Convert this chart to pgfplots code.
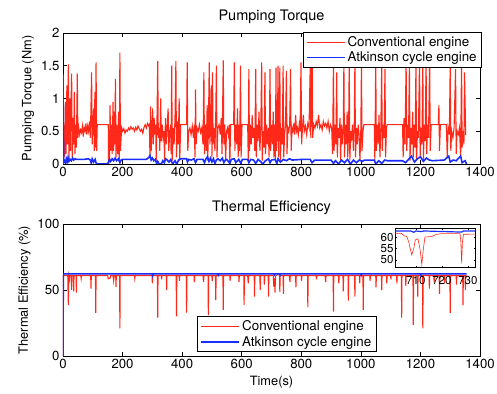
\documentclass[border=0pt]{standalone}
\usepackage{pgfplots}
\pgfplotsset{compat=1.18}
\usepackage{pgfplotstable}
\usepackage{fontspec}
\setmainfont{TeX Gyre Heros}
\definecolor{cred}{RGB}{255,40,25}
\definecolor{cblue}{RGB}{25,45,255}

\pgfplotstableread{
t v
0 0.60
3 0.58
5 0.10
8 0.95
10 0.15
13 1.20
15 0.30
18 1.52
20 0.08
23 1.00
25 0.20
27 0.90
29 1.38
31 0.10
34 0.70
36 0.30
38 1.10
40 0.15
43 0.60
45 0.25
48 1.38
50 0.40
53 0.55
56 0.45
59 0.52
62 0.48
65 0.58
68 0.42
71 0.55
74 0.50
77 0.62
80 0.45
83 0.58
86 0.50
89 0.65
92 0.40
94 0.90
96 1.40
98 0.30
100 0.60
103 0.85
105 0.20
107 1.10
109 0.25
111 1.55
113 0.20
115 0.60
152 0.60
153 0.00
156 0.05
158 0.90
160 0.20
163 0.60
165 0.15
168 0.95
170 0.20
172 0.80
174 0.30
176 1.30
178 0.10
181 0.60
184 0.15
187 0.80
189 0.05
191 1.70
193 0.20
195 0.40
197 0.55
200 0.50
204 0.54
208 0.47
212 0.52
216 0.50
220 0.55
224 0.52
228 0.57
232 0.53
236 0.55
240 0.50
244 0.56
248 0.52
252 0.58
256 0.54
260 0.50
264 0.53
268 0.47
272 0.56
276 0.60
280 0.55
284 0.62
288 0.58
290 0.60
292 0.10
294 0.88
296 0.20
299 0.55
301 0.85
303 0.30
306 0.70
308 0.45
311 0.60
313 0.05
316 0.80
318 1.57
320 0.40
323 0.55
325 0.20
328 1.00
330 0.35
333 0.60
336 0.40
339 0.50
341 0.05
344 0.70
347 0.30
350 0.60
353 0.85
355 0.20
358 0.45
361 0.60
363 0.15
365 1.50
367 0.05
370 0.55
373 0.30
376 0.70
379 1.57
381 0.10
384 0.65
387 0.30
390 1.00
392 0.05
395 0.60
415 0.60
417 1.55
419 0.20
422 0.50
426 0.55
430 0.45
434 0.58
438 0.40
441 0.60
443 0.10
445 1.14
447 0.30
450 0.55
454 0.50
458 0.60
462 0.48
466 0.55
470 0.30
473 1.40
475 0.15
478 0.60
481 0.20
484 0.90
486 0.05
488 0.50
491 1.55
493 0.30
496 0.60
498 1.20
500 0.10
502 1.40
504 0.30
507 0.55
510 0.20
513 0.80
515 1.50
517 0.10
520 0.55
524 0.60
528 0.45
531 0.70
534 0.15
538 1.58
540 0.30
543 0.60
546 0.05
549 0.50
552 0.55
555 0.45
558 0.60
560 0.00
563 0.60
573 0.60
575 1.55
577 0.20
580 0.60
583 0.30
586 0.85
588 0.10
591 0.60
593 0.20
596 1.50
598 0.10
601 0.60
620 0.60
622 0.05
624 1.45
626 0.20
629 0.60
632 0.30
635 0.75
638 0.40
641 0.55
644 0.20
647 1.45
649 0.10
652 0.60
655 0.35
658 0.80
661 0.20
664 0.55
667 1.55
669 0.05
672 0.50
675 0.25
678 1.40
680 0.15
683 0.60
686 0.30
689 0.55
692 0.10
695 1.45
697 0.20
700 0.60
703 0.30
706 0.80
708 0.10
711 0.60
713 0.05
715 1.47
717 0.20
720 0.55
722 1.50
724 0.10
726 0.60
728 1.47
730 0.05
733 0.55
736 0.30
739 1.50
741 0.10
744 0.45
747 0.60
750 1.42
752 0.15
755 0.55
758 0.50
761 0.60
764 1.45
766 0.20
769 0.55
772 0.50
775 0.62
778 0.45
781 0.75
784 0.50
787 0.55
790 0.45
793 0.60
796 0.50
799 1.55
801 0.30
804 0.55
807 0.75
810 0.50
814 0.58
818 0.45
822 0.62
826 0.55
830 1.50
832 0.40
836 2.00
838 0.40
842 0.60
846 0.55
850 0.65
854 0.58
858 0.75
862 0.55
866 0.60
870 0.52
874 0.65
878 0.58
882 0.62
886 0.55
890 0.65
894 0.50
898 0.60
902 0.55
905 0.15
908 1.57
910 0.20
913 0.60
916 0.30
919 1.40
921 0.10
924 0.55
927 0.40
930 0.70
932 0.05
935 0.60
938 0.30
941 0.55
943 1.55
945 0.10
948 0.60
951 0.30
954 0.80
956 0.10
959 0.55
961 1.60
963 0.05
966 0.50
969 0.40
972 0.60
975 0.20
978 0.65
980 1.57
982 0.10
985 0.55
988 0.30
991 0.60
994 0.45
997 0.05
1000 0.55
1002 1.55
1004 0.20
1007 0.50
1010 0.60
1045 0.60
1047 0.05
1050 1.60
1052 0.20
1055 0.60
1058 0.30
1061 0.75
1064 0.10
1067 0.55
1070 1.50
1072 0.20
1075 0.60
1078 0.40
1081 1.45
1083 0.10
1086 0.55
1088 0.60
1140 0.60
1142 0.10
1145 0.70
1148 0.30
1152 1.55
1154 0.20
1157 0.60
1160 0.40
1163 1.50
1165 0.05
1168 0.55
1171 0.30
1174 0.80
1176 0.10
1179 0.60
1182 0.25
1185 1.55
1187 0.05
1190 0.50
1193 0.40
1197 1.60
1199 0.10
1202 0.55
1205 0.30
1208 1.55
1210 0.05
1213 0.60
1216 0.35
1219 1.60
1221 0.15
1224 0.60
1227 0.40
1231 1.58
1233 0.20
1236 0.60
1260 0.60
1262 0.90
1264 0.20
1267 0.60
1287 0.60
1290 0.10
1293 0.55
1297 0.45
1300 1.50
1302 0.20
1305 0.50
1309 0.40
1313 0.55
1318 1.45
1320 0.15
1323 0.50
1327 0.45
1331 0.55
1335 0.10
1338 1.55
1340 0.25
1343 0.50
1346 0.30
1348 1.40
1352 0.44
}\torqueRed

\pgfplotstableread{
t v
0 1.37
2 0.02
5 0.05
8 0.02
11 0.08
14 0.03
17 0.10
20 0.04
24 0.07
28 0.05
32 0.09
36 0.06
40 0.08
45 0.07
55 0.07
70 0.07
85 0.08
92 0.06
95 0.01
98 0.08
103 0.03
108 0.07
112 0.00
148 0.00
152 0.02
156 0.07
160 0.04
165 0.08
170 0.05
175 0.09
180 0.05
186 0.08
191 0.02
195 0.06
200 0.07
250 0.07
280 0.07
288 0.10
292 0.13
296 0.06
300 0.09
305 0.05
310 0.07
314 0.01
318 0.04
322 0.00
330 0.00
335 0.05
340 0.02
345 0.08
350 0.06
356 0.03
362 0.07
368 0.00
376 0.05
382 0.00
388 0.06
395 0.08
415 0.08
418 0.03
422 0.07
430 0.06
440 0.08
445 0.02
450 0.07
470 0.07
475 0.02
480 0.08
485 0.11
490 0.04
495 0.09
500 0.03
505 0.08
510 0.01
515 0.06
520 0.08
528 0.05
535 0.09
540 0.02
545 0.06
550 0.07
560 0.01
565 0.07
575 0.08
580 0.02
590 0.07
597 0.01
602 0.07
620 0.07
624 0.02
630 0.07
640 0.06
647 0.01
655 0.07
665 0.03
670 0.00
680 0.05
690 0.08
695 0.02
700 0.06
712 0.07
718 0.01
722 0.08
730 0.03
740 0.07
750 0.05
760 0.08
770 0.06
800 0.07
830 0.07
836 0.02
845 0.06
900 0.06
908 0.01
915 0.05
925 0.00
935 0.06
945 0.02
955 0.07
965 0.00
975 0.06
985 0.02
995 0.06
1005 0.04
1012 0.06
1045 0.06
1050 0.00
1060 0.05
1070 0.01
1080 0.06
1090 0.05
1140 0.05
1150 0.02
1160 0.07
1170 0.12
1180 0.03
1190 0.08
1200 0.11
1210 0.04
1220 0.09
1230 0.06
1240 0.05
1280 0.06
1295 0.12
1300 0.03
1310 0.06
1320 0.05
1335 0.12
1340 0.02
1350 0.05
1355 0.00
}\torqueBlue

\pgfplotstableread{
t v
0 0
1 61
16 61
18 38.6
19 61
22 58
23 61
28 61
29 50
30 61
35 61
36 49
37 61
44 61
45 48
46 61
60 61
61 59
62 61
93 61
94 51
95 61
109 61
110 32.6
111 61
150 61
152 58.5
158 59
160 61
168 61
170 57
172 61
177 61
178 52.4
179 61
190 61
191 21
192 61
240 61
241 59
242 61
299 61
300 55
301 61
317 61
318 29
319 61
330 61
331 58
332 61
347 61
348 50
349 61
380 61
381 30
382 61
390 61
391 57
392 61
414 61
415 32.8
416 61
440 61
441 56
442 61
470 61
472 56
473 61
487 61
488 31
489 61
500 61
501 57
502 61
512 61
513 42.4
514 61
537 61
538 35
539 61
560 61
561 57
562 61
590 61
591 56
592 61
607 61
608 38.6
609 61
620 61
622 55
623 61
642 61
643 45
644 61
661 61
662 50
663 61
675 61
676 54
677 61
689 61
690 45
691 61
702 61
706 60.8
708 52.3
710 59
712 48
713 60.5
718 61.5
727 61.5
728 48.5
729 61
739 61
740 47
741 61
760 61
762 56
763 61
781 61
782 52
783 61
800 61
801 57
802 61
821 61
822 37
823 61
850 61
851 58
852 61
880 61
882 56
883 61
907 61
908 33.6
909 61
925 61
926 55
927 61
940 61
941 49
942 61
957 61
958 42
959 61
979 61
980 45
981 61
995 61
996 55
997 61
1007 61
1008 35
1009 61
1030 61
1031 57
1032 61
1050 61
1051 52
1052 61
1069 61
1070 50
1071 61
1086 61
1087 55
1088 61
1100 61
1101 58
1102 61
1120 61
1121 55
1122 61
1136 61
1137 29
1138 61
1150 61
1151 53
1152 61
1175 61
1176 23.5
1177 61
1190 61
1191 45
1192 61
1207 61
1208 21
1209 61
1229 61
1230 51
1231 61
1245 61
1246 56
1247 61
1263 61
1264 47
1265 61
1280 61
1281 55
1282 61
1299 61
1300 32.6
1301 61
1320 61
1321 54
1322 61
1342 61
1343 38.6
1344 61
1350 61
1351 50
1352 61
1355 61
}\effRed

\pgfplotstableread{
t v
0 0
1 62.2
300 62.2
301 61.2
302 62.2
520 62.2
521 61.5
522 62.2
709 62.2
710 61.7
711 62.2
728 62.2
729 61.6
730 62.2
1000 62.2
1001 61.4
1002 62.2
1200 62.2
1201 61.5
1202 62.2
1355 62.2
}\effBlue

\pgfplotstableread{
t v
702 62
704.5 61.9
705.5 60.8
706.5 60.5
707.3 58
708.4 52.3
709.2 55
709.8 59
710.8 59.5
711.6 55
712.3 48
712.9 55
713.5 60.3
716 60.5
718 61.5
720 61.8
727 61.8
727.3 58
727.6 48.5
727.9 58
728.3 61.5
733 61.6
}\insetRed

\pgfplotstableread{
t v
702 63
708 63
709.2 62.4
710 63
712.3 62.7
713 63
727.6 62.5
728.3 63
733 63
}\insetBlue

\pgfplotsset{
  common/.style={
    scale only axis,
    tick align=inside,
    axis line style={line width=0.8pt},
    every tick/.style={black, line width=0.6pt},
    major tick length=4pt,
    ticklabel style={font=\fontsize{13.2}{15}\selectfont},
    /pgf/number format/assume math mode=true,
    /pgf/number format/1000 sep={},
    label style={font=\fontsize{12.8}{15}\selectfont},
    title style={font=\fontsize{14.5}{17}\selectfont},
    legend cell align=left,
    legend image code/.code={\draw[##1] (0pt,0pt) -- (38pt,0pt);},
    legend style={font=\fontsize{13.4}{16}\selectfont, draw=black, line width=0.8pt,
      inner xsep=3pt, inner ysep=2pt, row sep=0pt},
  },
}

\begin{document}
\begin{tikzpicture}
\useasboundingbox (0pt,0pt) rectangle (497pt,393pt);
\begin{axis}[common,
  at={(63pt,229pt)}, anchor=south west,
  width=417pt, height=131pt,
  xmin=0, xmax=1400, ymin=0, ymax=2,
  xtick={0,200,...,1400}, ytick={0,0.5,1,1.5,2},
  title={Pumping Torque},
  ylabel={Pumping Torque (Nm)},
  legend style={at={(1.005,1.008)}, anchor=north east},
]
\addplot[cred, line width=1.1pt] table[x=t,y=v] {\torqueRed};
\addlegendentry{Conventional engine}
\addplot[cblue, line width=1.6pt] table[x=t,y=v] {\torqueBlue};
\addlegendentry{Atkinson cycle engine}
\end{axis}

\begin{axis}[common,
  at={(63pt,37pt)}, anchor=south west,
  width=417pt, height=132pt,
  xmin=0, xmax=1400, ymin=0, ymax=100,
  xtick={0,200,...,1400}, ytick={0,50,100},
  title={Thermal Efficiency},
  ylabel={Thermal Efficiency (\%)},
  xlabel={Time(s)},
  legend style={at={(0.537,0.03)}, anchor=south},
]
\addplot[cred, line width=1.1pt] table[x=t,y=v] {\effRed};
\addlegendentry{Conventional engine}
\addplot[cblue, line width=1.6pt] table[x=t,y=v] {\effBlue};
\addlegendentry{Atkinson cycle engine}
\end{axis}

\begin{axis}[common,
  at={(395pt,125.3pt)}, anchor=south west,
  width=80.7pt, height=39.4pt,
  xmin=702, xmax=733, ymin=46.5, ymax=64.2,
  xtick={710,720,730}, ytick={50,55,60},
  major tick length=2pt,
  axis background/.style={fill=white},
  ticklabel style={font=\fontsize{11.5}{12}\selectfont},
  yticklabel style={xshift=2pt, inner ysep=0pt},
  xticklabel style={yshift=-5pt},
]
\addplot[cred, line width=0.6pt] table[x=t,y=v] {\insetRed};
\addplot[cblue, line width=1.2pt] table[x=t,y=v] {\insetBlue};
\end{axis}
\end{tikzpicture}
\end{document}
